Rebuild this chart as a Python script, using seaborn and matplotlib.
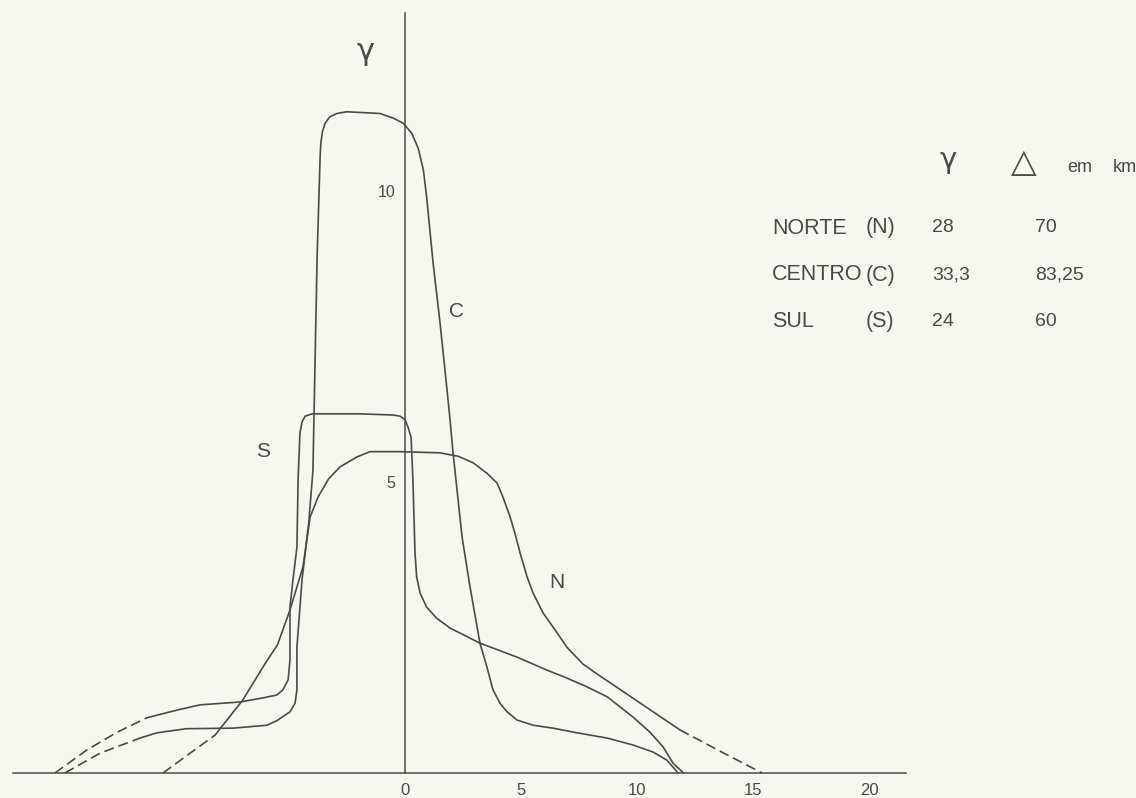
import numpy as np
import pandas as pd
import matplotlib
matplotlib.use("Agg")
import matplotlib.pyplot as plt
import seaborn as sns

# curve N (norte)
n_dash_left_x = [-10.43, -9.3, -8.19]
n_dash_left_y = [0.0, 0.33, 0.65]
n_x = [-8.19, -7.0, -6.0, -5.5, -4.96, -4.40, -4.09, -3.75, -3.30, -2.80, -2.07, -1.51,
       -0.22, 1.51, 2.30, 2.93, 3.53, 3.97, 4.22, 4.53, 4.75, 4.96, 5.26, 5.52, 5.95, 6.55,
       6.98, 7.41, 7.67, 8.28, 9.14, 11.85]
n_y = [0.65, 1.25, 1.90, 2.20, 2.80, 3.54, 4.40, 4.74, 5.05, 5.26, 5.43, 5.52,
       5.52, 5.50, 5.44, 5.33, 5.15, 4.98, 4.74, 4.40, 4.10, 3.78, 3.37, 3.09, 2.75, 2.41,
       2.16, 1.98, 1.87, 1.70, 1.47, 0.74]
n_dash_right_x = [11.85, 13.6, 15.39]
n_dash_right_y = [0.74, 0.37, 0.0]

# curve S (sul)
s_dash_x = [-15.09, -13.7, -12.41, -11.12]
s_dash_y = [0.0, 0.40, 0.70, 0.95]
s_x = [-11.12, -9.83, -8.84, -7.11, -6.12, -5.52, -5.26, -5.04, -4.96, -4.96, -4.83, -4.66,
       -4.61, -4.53, -4.44, -4.31, -4.0, -1.94, -0.52, -0.22, 0.0, 0.13, 0.26, 0.34, 0.43,
       0.50, 0.65, 0.93, 1.36, 1.94, 3.23, 4.83, 6.10, 6.98, 7.84, 8.71, 9.83, 10.56, 11.12,
       11.55, 12.0]
s_y = [0.95, 1.08, 1.17, 1.22, 1.29, 1.34, 1.43, 1.60, 1.94, 2.85, 3.32, 3.88,
       5.03, 5.84, 6.03, 6.13, 6.17, 6.17, 6.15, 6.13, 6.07, 5.94, 5.77, 5.03, 3.78,
       3.37, 3.09, 2.85, 2.66, 2.49, 2.23, 1.99, 1.77, 1.63, 1.48, 1.31, 0.96, 0.70, 0.45,
       0.17, 0.0]

# curve C (centro)
c_dash_x = [-14.66, -13.15, -11.42]
c_dash_y = [0.0, 0.34, 0.60]
c_x = [-11.42, -10.69, -9.44, -7.41, -5.95, -5.52, -4.96, -4.74, -4.66, -4.66, -4.44, -4.15,
       -3.97, -3.79, -3.66, -3.63, -3.56, -3.45, -3.25, -2.94, -2.51, -1.08, -0.50, -0.07,
       0.29, 0.57, 0.79, 0.93, 1.21, 1.51, 1.81, 1.94, 2.07, 2.46, 2.80, 3.23, 3.53, 3.79,
       4.09, 4.40, 4.83, 5.52, 6.38, 7.41, 8.71, 9.83, 10.69, 11.29, 11.77]
c_y = [0.60, 0.69, 0.76, 0.77, 0.82, 0.90, 1.05, 1.20, 1.43, 2.16, 3.32, 4.30,
       5.20, 8.87, 10.59, 10.82, 11.02, 11.16, 11.27, 11.33, 11.36, 11.33, 11.25, 11.16,
       10.99, 10.73, 10.36, 9.90, 8.76, 7.73, 6.58, 6.07, 5.50, 4.05, 3.20, 2.23, 1.82, 1.43,
       1.20, 1.05, 0.91, 0.82, 0.77, 0.69, 0.60, 0.48, 0.36, 0.22, 0.0]

regions = ["NORTE", "CENTRO", "SUL"]
codes = ["(N)", "(C)", "(S)"]
gamma_vals = ["28", "33,3", "24"]
delta_vals = ["70", "83,25", "60"]

x_ticks = [0, 5, 10, 15, 20]
y_ticks = [5, 10]

segs = [
    ("n1", "dashed", n_dash_left_x, n_dash_left_y),
    ("n2", "solid", n_x, n_y),
    ("n3", "dashed", n_dash_right_x, n_dash_right_y),
    ("s1", "dashed", s_dash_x, s_dash_y),
    ("s2", "solid", s_x, s_y),
    ("c1", "dashed", c_dash_x, c_dash_y),
    ("c2", "solid", c_x, c_y),
]
rows = []
for seg, kind, xs, ys in segs:
    for a, b in zip(xs, ys):
        rows.append({"seg": seg, "kind": kind, "x": a, "y": b})
df = pd.DataFrame(rows)

sns.set_style("white")
bg = "#f7f6ef"
ink = "#4a4a4a"
plt.rcParams["font.family"] = ["Liberation Sans", "DejaVu Sans"]

fig = plt.figure(figsize=(11.36, 7.98), dpi=100, facecolor=bg)
ax = fig.add_axes([0, 0, 1, 1], facecolor=bg)

sns.lineplot(data=df, x="x", y="y", units="seg", style="kind", estimator=None,
             sort=False, color=ink, linewidth=1.2,
             dashes={"solid": "", "dashed": (6, 3)}, legend=False, ax=ax)
for line in ax.lines:
    line.set_solid_joinstyle("round")

ax.set_xlim(-17.46, 31.51)
ax.set_ylim(-0.43, 13.28)
for s in ["top", "right"]:
    ax.spines[s].set_visible(False)
ax.spines["left"].set_position(("data", 0))
ax.spines["bottom"].set_position(("data", 0))
ax.spines["left"].set_bounds(0, 13.06)
ax.spines["bottom"].set_bounds(-16.9, 21.6)
for s in ["left", "bottom"]:
    ax.spines[s].set_color(ink)
    ax.spines[s].set_linewidth(1.1)

ax.set_xticks(x_ticks)
ax.set_yticks(y_ticks)
ax.set_xticklabels([str(t) for t in x_ticks])
ax.set_yticklabels([str(t) for t in y_ticks])
ax.tick_params(axis="x", direction="out", length=4, width=1, colors=ink,
               labelsize=12, pad=3)
ax.tick_params(axis="y", direction="out", length=6, width=1, colors=ink,
               labelsize=11.5, pad=1)
ax.set_xlabel("")
ax.set_ylabel("")

ax.text(-1.72, 12.4, "γ", fontsize=22, color=ink, ha="center", va="center",
        family="DejaVu Sans")
ax.text(2.24, 7.92, "C", fontsize=15, color=ink, ha="center", va="center")
ax.text(-6.12, 5.52, "S", fontsize=15, color=ink, ha="center", va="center")
ax.text(6.55, 3.28, "N", fontsize=15, color=ink, ha="center", va="center")

# table at upper right (positions in figure pixels)
W, H = 1136, 798
def put(px, py, s, **kw):
    fig.text(px / W, 1 - py / H, s, color=ink, va="center", **kw)

put(948, 160, "γ", fontsize=21, ha="center", family="DejaVu Sans")
put(1011, 162, "△", fontsize=24, ha="left", family="DejaVu Sans")
put(1067, 168, "em", fontsize=13, ha="left")
put(1113, 168, "km", fontsize=13, ha="left")
for k, py in enumerate([228, 275, 322]):
    put(772, py, regions[k], fontsize=15.5, ha="left")
    put(866, py, codes[k], fontsize=15.5, ha="left")
    put(932, py, gamma_vals[k], fontsize=14, ha="left")
    put(1035, py, delta_vals[k], fontsize=14, ha="left")

fig.savefig("out.png", dpi=100, facecolor=bg)
